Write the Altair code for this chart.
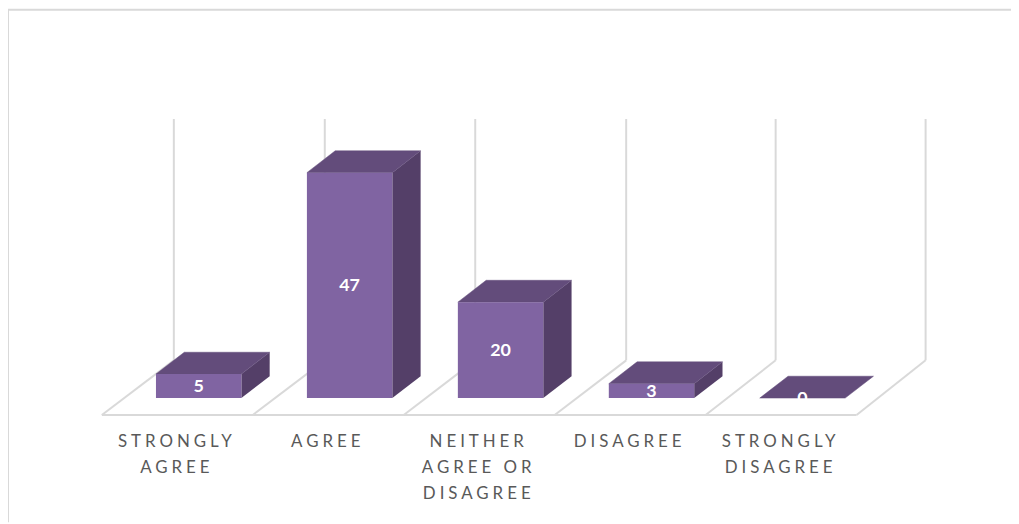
import altair as alt
import pandas as pd

# ---- chart values
categories = ["STRONGLY\nAGREE", "AGREE", "NEITHER\nAGREE OR\nDISAGREE", "DISAGREE", "STRONGLY\nDISAGREE"]
values = [5, 47, 20, 3, 0]

# ---- 3-D box proportions and scales, in category / value units
PX_PER_CAT = 152.0
PX_PER_VAL = 4.83
BAR_W = 86 / PX_PER_CAT
DEPTH_X = 28.5 / PX_PER_CAT
DEPTH_Y = 22 / PX_PER_VAL
X_DOMAIN = [-192 / PX_PER_CAT, (1010 - 192) / PX_PER_CAT]
Y_DOMAIN = [-17 / PX_PER_VAL, 391 / PX_PER_VAL]

# floor and wall positions
wall_x = [-0.1645, 0.8355, 1.8322, 2.8322, 3.8224, 4.8158]
floor_front_x = [-0.6414, 0.3586, 1.3586, 2.3586, 3.3586, 4.3586]
floor_back_val = 38 / PX_PER_VAL
floor_front_val = -17 / PX_PER_VAL
wall_top_val = 281 / PX_PER_VAL
frame_bottom_val = -125 / PX_PER_VAL
frame_left_x = X_DOMAIN[0]
frame_top_val = Y_DOMAIN[1]
frame_right_x = X_DOMAIN[1]
label_x_shift = -22 / PX_PER_CAT
label_y_val = -36 / PX_PER_VAL

FRONT, TOP, SIDE = "#8064A2", "#634C7B", "#543F68"
GRID = "#D9D9D9"
TEXT = "#595959"
FONT = "Lato"

xs = alt.Scale(domain=X_DOMAIN, nice=False, zero=False)
ys = alt.Scale(domain=Y_DOMAIN, nice=False, zero=False)


def X(field):
    return alt.X(field, type="quantitative", scale=xs, axis=None)


def Y(field):
    return alt.Y(field, type="quantitative", scale=ys, axis=None)


rows = [{"i": i, "v": v, "l": i - BAR_W / 2, "r": i + BAR_W / 2} for i, v in enumerate(values)]
bars = pd.DataFrame(rows)

top_rows, side_rows = [], []
for b in rows:
    top_rows += [
        {"i": b["i"], "y": b["v"], "x": b["l"], "x2": b["r"]},
        {"i": b["i"], "y": b["v"] + DEPTH_Y, "x": b["l"] + DEPTH_X, "x2": b["r"] + DEPTH_X},
    ]
    side_rows += [
        {"i": b["i"], "x": b["r"], "y": b["v"], "y2": 0},
        {"i": b["i"], "x": b["r"] + DEPTH_X, "y": b["v"] + DEPTH_Y, "y2": DEPTH_Y},
    ]

walls = pd.DataFrame({"x": wall_x, "y": floor_back_val, "y2": wall_top_val})
slants = pd.DataFrame({"x": floor_front_x, "x2": wall_x, "y": floor_front_val, "y2": floor_back_val})
front_line = pd.DataFrame({"x": [floor_front_x[0]], "x2": [floor_front_x[-1]], "y": [floor_front_val]})
frame_left = pd.DataFrame({"x": [frame_left_x], "y": [frame_top_val], "y2": [frame_bottom_val]})
frame_top = pd.DataFrame({"x": [frame_left_x], "x2": [frame_right_x], "y": [frame_top_val]})
cat_labels = pd.DataFrame({
    "x": [i + label_x_shift for i in range(len(categories))],
    "y": [label_y_val] * len(categories),
    "t": categories,
})

rule = alt.Chart(front_line).mark_rule(color=GRID, strokeWidth=2).encode(x=X("x"), x2="x2", y=Y("y"))
wall_rules = alt.Chart(walls).mark_rule(color=GRID, strokeWidth=2).encode(x=X("x"), y=Y("y"), y2="y2")
slant_rules = alt.Chart(slants).mark_rule(color=GRID, strokeWidth=2).encode(x=X("x"), x2="x2", y=Y("y"), y2="y2")
left_rule = alt.Chart(frame_left).mark_rule(color=GRID, strokeWidth=2).encode(x=X("x"), y=Y("y"), y2="y2")
top_rule = alt.Chart(frame_top).mark_rule(color=GRID, strokeWidth=2).encode(x=X("x"), x2="x2", y=Y("y"))

top_faces = alt.Chart(pd.DataFrame(top_rows)).mark_area(orient="horizontal", color=TOP, stroke=TOP, strokeWidth=0.5).encode(
    y=Y("y"), x=X("x"), x2="x2", detail="i:N"
)
side_faces = alt.Chart(pd.DataFrame(side_rows)).mark_area(orient="vertical", color=SIDE).encode(
    x=X("x"), y=Y("y"), y2="y2", detail="i:N"
)
fronts = alt.Chart(bars).mark_rect(color=FRONT).encode(
    x=X("l"), x2="r", y=Y("v"), y2=alt.Y2(datum=0)
)
labels = alt.Chart(bars.assign(mid=bars.v / 2)).mark_text(
    color="white", font=FONT, fontSize=18, fontWeight="bold", baseline="middle", align="center", dy=1
).encode(x=X("i"), y=Y("mid"), text="v:Q")
cat_text = alt.Chart(cat_labels).mark_text(
    color=TEXT, font=FONT, fontSize=17, baseline="top", align="center", lineBreak="\n", lineHeight=26.5
).encode(x=X("x"), y=Y("y"), text="t:N")

chart = alt.layer(
    rule, wall_rules, slant_rules, left_rule, top_rule, side_faces, top_faces, fronts, labels, cat_text
).properties(
    width=1010,
    height=408,
    padding={"left": 0, "top": 0, "right": 0, "bottom": 107},
    background="white",
    autosize=alt.AutoSizeParams(type="none"),
).configure_view(stroke=None)

chart.save(
    "out.html",
    embed_options={
        "renderer": "svg",
        "actions": False,
        "defaultStyle": ".layer_9_marks text{letter-spacing:4px}",
    },
)
